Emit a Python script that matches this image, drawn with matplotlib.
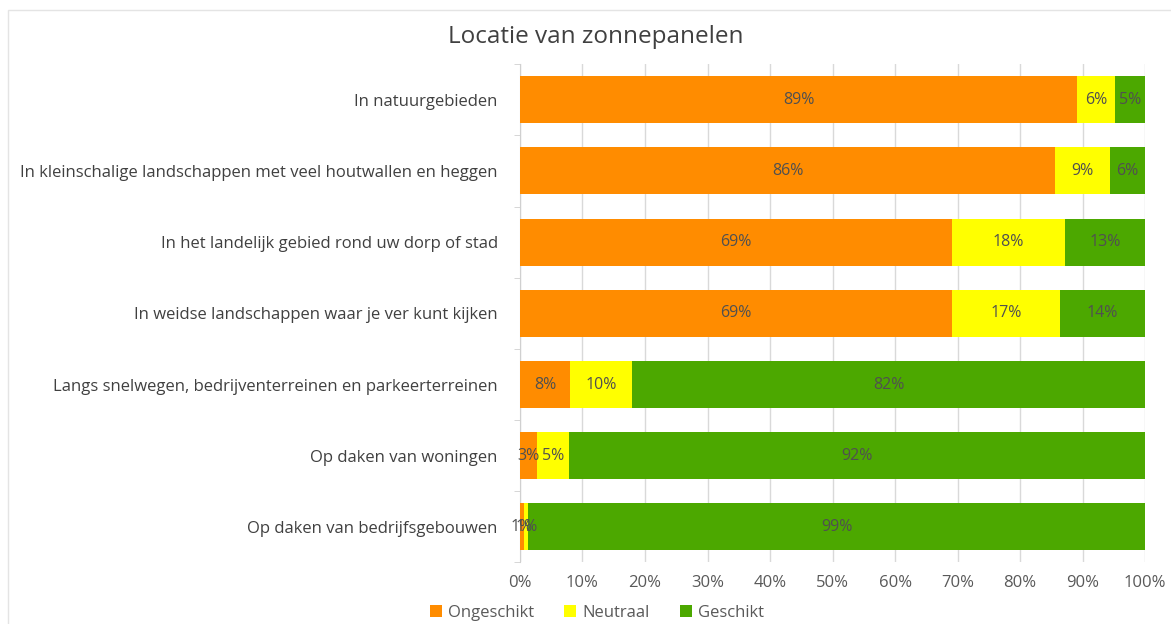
import numpy as np
import matplotlib.pyplot as plt
from matplotlib.patches import Rectangle

plt.rcParams['font.family'] = ['Open Sans', 'DejaVu Sans']

# Categories (top to bottom) and shares in %
categories = [
    "In natuurgebieden",
    "In kleinschalige landschappen met veel houtwallen en heggen",
    "In het landelijk gebied rond uw dorp of stad",
    "In weidse landschappen waar je ver kunt kijken",
    "Langs snelwegen, bedrijventerreinen en parkeerterreinen",
    "Op daken van woningen",
    "Op daken van bedrijfsgebouwen",
]
ongeschikt = [89.1, 85.6, 69.1, 69.1, 8.0, 2.7, 0.7]
neutraal = [6.1, 8.8, 18.1, 17.3, 9.9, 5.2, 0.6]
geschikt = [4.8, 5.6, 12.8, 13.6, 82.1, 92.1, 98.7]

series = ["Ongeschikt", "Neutraal", "Geschikt"]
colors = ["#FF8C00", "#FFFF00", "#4CA800"]

fig = plt.figure(figsize=(11.71, 6.24), dpi=100)
ax = fig.add_axes([0.444, 0.0986, 0.534, 0.7985])

# light frame around the whole chart
fig.patches.append(Rectangle((0.007, -0.01), 1.0, 0.994, transform=fig.transFigure,
                             fill=False, edgecolor="#E4E4E4", linewidth=1.0))

y = np.arange(len(categories))
left = np.zeros(len(categories))
for name, vals, col in zip(series, [ongeschikt, neutraal, geschikt], colors):
    vals = np.array(vals)
    ax.barh(y, vals, left=left, height=0.66, color=col, label=name, zorder=3)
    for yi, (l, v) in enumerate(zip(left, vals)):
        ax.text(l + v / 2, yi, f"{v:.0f}%", ha="center", va="center",
                fontsize=11.5, color="#505050", zorder=4)
    left += vals

ax.set_ylim(len(categories) - 0.5, -0.5)
ax.set_xlim(0, 100)
ax.set_yticks(y)
ax.set_yticklabels(categories, fontsize=12, color="#404040")
ax.set_yticks(np.arange(-0.5, len(categories), 1), minor=True)
ax.tick_params(axis="y", which="major", length=0, pad=16)
ax.tick_params(axis="y", which="minor", length=4, color="#D0D0D0")
ax.set_xticks(np.arange(0, 101, 10))
ax.set_xticklabels([f"{t}%" for t in range(0, 101, 10)], fontsize=12, color="#595959")
ax.tick_params(axis="x", length=0, pad=9)
ax.grid(axis="x", color="#D9D9D9", linewidth=1, zorder=0)
for s in ["top", "right", "bottom"]:
    ax.spines[s].set_visible(False)
ax.spines["left"].set_color("#D0D0D0")

fig.text(0.509, 0.94, "Locatie van zonnepanelen", ha="center", va="center",
         fontsize=17.5, color="#404040")
fig.legend(loc="center", bbox_to_anchor=(0.51, 0.018), ncol=3, frameon=False,
           fontsize=12, handlelength=0.7, handleheight=0.7, columnspacing=1.8,
           handletextpad=0.4, labelcolor="#595959")

fig.savefig("out.png", dpi=100)
